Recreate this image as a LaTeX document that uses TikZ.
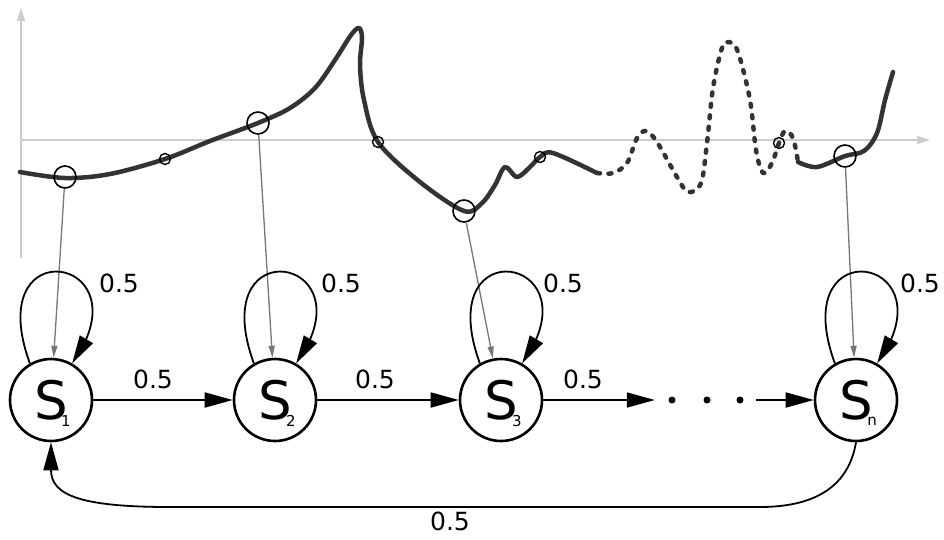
\documentclass[tikz,border=0pt]{standalone}
\usepackage{fontspec}
\setmainfont{DejaVu Sans}
\usetikzlibrary{arrows.meta,bending}
\definecolor{curvegrey}{HTML}{333333}
\definecolor{axisgrey}{HTML}{CCCCCC}
\definecolor{probegrey}{HTML}{777777}
\begin{document}
\begin{tikzpicture}[x=1pt,y=-1pt,
  state/.style={circle,draw,line width=2.6pt,minimum size=82pt,inner sep=0pt,font=\fontsize{53}{53}\selectfont},
  subl/.style={inner sep=0pt,font=\fontsize{15}{15}\selectfont},
  edge/.style={line width=1.8pt,-{Triangle[length=28pt,width=15pt,flex]}},
  backedge/.style={line width=1.8pt,-{Triangle[length=28pt,width=15pt,quick]}},
  lbl/.style={font=\fontsize{25}{25}\selectfont,inner sep=0pt},
  probe/.style={line width=1.3pt,draw=probegrey,-{Triangle[length=12pt,width=6pt]},fill=probegrey},
  bigmark/.style={circle,draw,line width=1.6pt,minimum size=22pt,inner sep=0pt},
  smallmark/.style={circle,draw,line width=1.4pt,minimum size=11pt,inner sep=0pt},
  dotnode/.style={circle,fill,minimum size=7pt,inner sep=0pt},
  curveline/.style={line width=4.5pt,draw=curvegrey,line cap=round,line join=round},
  axisline/.style={line width=1.5pt,draw=axisgrey,-{Triangle[length=13pt,width=8pt]}}
]
\useasboundingbox (0,0) rectangle (944,539);

% axes
\coordinate (yb) at (21,258);
\coordinate (yt) at (21,8);
\coordinate (xl) at (20,140);
\coordinate (xr) at (930,140);
\draw[axisline] (yb) -- (yt);
\draw[axisline] (xl) -- (xr);

% curve
\draw[curveline] plot[smooth,tension=0.55] coordinates {
 (20,172) (65,178) (110,174) (165,159) (210,141) (258,123) (290,108) (315,88)
 (335,60) (351,35) (359,28) (362,38) (360,65) (364,100) (378,142) (420,182)
 (464,211) (482,203) (495,185) (505,167) (517,177) (530,167) (540,157) (553,153) (597,173)};
\draw[curveline,dash pattern=on 3pt off 8.5pt] plot[smooth,tension=0.55] coordinates {
 (597,173) (613,173) (627,163) (637,138) (646,131) (657,142) (677,177) (688,192)
 (701,183) (707,143) (713,88) (722,48) (729,42) (738,52) (750,100) (756,150)
 (763,173) (772,163) (779,143) (785,131) (793,138) (798,162)};
\draw[curveline] plot[smooth,tension=0.55] coordinates {
 (798,162) (817,167) (845,156) (864,151) (877,133) (885,100) (893,72)};

% markers on the curve
\node[bigmark] (m1) at (65,177) {};
\node[smallmark] (k1) at (165,159) {};
\node[bigmark] (m2) at (258,123) {};
\node[smallmark] (k2) at (378,142) {};
\node[bigmark] (m3) at (464,211) {};
\node[smallmark] (k3) at (540,157) {};
\node[smallmark] (k4) at (779,143) {};
\node[bigmark] (m4) at (845,156) {};

% states
\node[state] (s1) at (51,400) {S};
\node[state] (s2) at (275,400) {S};
\node[state] (s3) at (501,400) {S};
\node[state] (sn) at (856,400) {S};
\node[subl] (i1) at ([xshift=15pt,yshift=-21pt]s1.center) {1};
\node[subl] (i2) at ([xshift=16pt,yshift=-21pt]s2.center) {2};
\node[subl] (i3) at ([xshift=16pt,yshift=-21pt]s3.center) {3};
\node[subl] (in) at ([xshift=16pt,yshift=-21pt]sn.center) {n};

% dots
\node[dotnode] (d1) at (672,400) {};
\node[dotnode] (d2) at (707,400) {};
\node[dotnode] (d3) at (740,400) {};

% probe arrows
\draw[probe] (m1) -- (s1);
\draw[probe] (m2) -- (s2);
\draw[probe] (m3) -- (s3);
\draw[probe] (m4) -- (sn);

% self loops
\foreach \s in {s1,s2,s3,sn}{
  \draw[edge] (\s.120) .. controls +(-50,-137) and +(77,-107) .. (\s.60);
}
\node[lbl] (l1) at (119,283) {0.5};
\node[lbl] (l2) at (341,283) {0.5};
\node[lbl] (l3) at (563,283) {0.5};
\node[lbl] (l4) at (920,283) {0.5};

% chain
\draw[edge] (s1) -- (s2);
\draw[edge] (s2) -- (s3);
\draw[edge,shorten >=13.5pt] (s3) -- (d1);
\draw[edge,shorten <=12.5pt] (d3) -- (sn);
\node[lbl] (h1) at (153,379) {0.5};
\node[lbl] (h2) at (375,379) {0.5};
\node[lbl] (h3) at (583,379) {0.5};

% return arrow
\coordinate (b1) at (760,507);
\coordinate (b2) at (170,507);
\draw[backedge] (sn.south) .. controls (848,490) and (810,507) .. (b1) -- (b2)
  .. controls (80,507) and (51,495) .. (s1.south);
\node[lbl] (h4) at (450,521) {0.5};
\end{tikzpicture}
\end{document}
